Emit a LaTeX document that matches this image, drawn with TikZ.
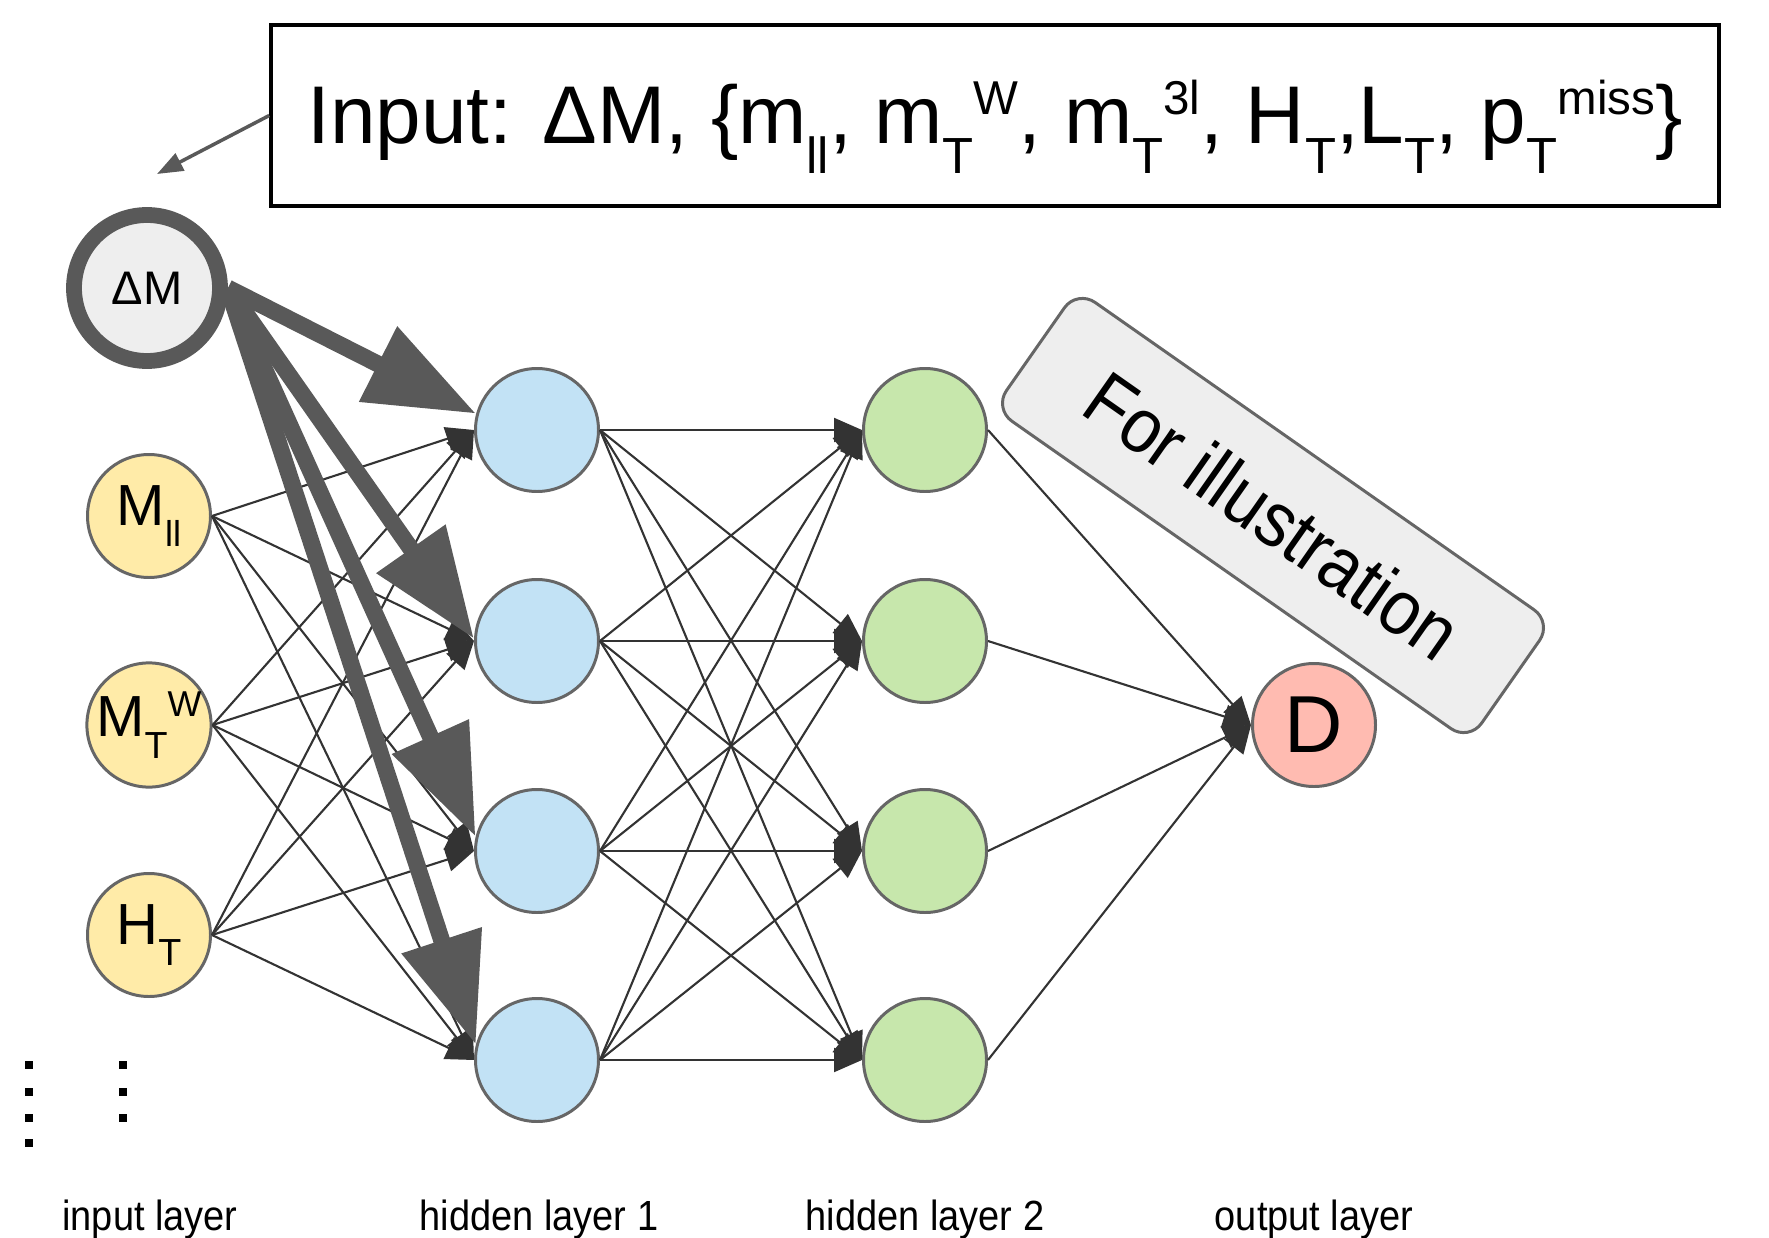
\documentclass[tikz,border=0pt]{standalone}
\usepackage{fontspec}
\setsansfont{Liberation Sans}
\newfontfamily\narrowsf[FakeStretch=0.9]{Liberation Sans}
\usepackage{graphicx}
\usetikzlibrary{arrows.meta}

\definecolor{nodeline}{HTML}{666666}
\definecolor{heavycol}{HTML}{595959}
\definecolor{wirecol}{HTML}{333333}
\definecolor{boxgray}{HTML}{EEEEEE}
\definecolor{inyellow}{HTML}{FFEBA8}
\definecolor{hidblue}{HTML}{C2E2F5}
\definecolor{hidgreen}{HTML}{C7E7AC}
\definecolor{outpink}{HTML}{FFBBB1}

% sub- and superscript as plain text
\newcommand{\lowtxt}[2][0.65]{\raisebox{-0.37em}{\scalebox{#1}{#2}}}
\newcommand{\hightxt}[2][0.62]{\raisebox{0.35em}{\scalebox{#1}{#2}}}

\begin{document}
\begin{tikzpicture}[font=\sffamily,
  unit/.style={circle, draw=nodeline, line width=0.85pt, minimum size=1.23cm, inner sep=0pt},
  inunit/.style={unit, fill=inyellow, font=\sffamily\fontsize{16.5}{18}\selectfont},
  hidone/.style={unit, fill=hidblue},
  hidtwo/.style={unit, fill=hidgreen},
  outunit/.style={unit, fill=outpink, font=\sffamily\fontsize{23}{26}\selectfont},
  wire/.style={draw=wirecol, line width=0.6pt, -{Triangle[length=0.28cm,width=0.24cm]}},
  heavy/.style={draw=heavycol, line width=4.8pt, -{Triangle[length=1.1cm,width=0.8cm]}},
  pointer/.style={draw=heavycol, line width=1pt, -{Triangle[length=0.26cm,width=0.19cm]}},
  layername/.style={anchor=base, font=\narrowsf\fontsize{12}{14}\selectfont}]
  \useasboundingbox (0,0) rectangle (17.69,12.37);
  % input layer
  \node[circle, draw=heavycol, line width=4.5pt, fill=boxgray, minimum size=1.46cm,
        inner sep=0pt, font=\sffamily\fontsize{13.4}{15}\selectfont] (dm) at (1.47,9.49) {ΔM};
  \node[inunit] (mll) at (1.49,7.21) {M\lowtxt[0.62]{ll}};
  \node[inunit] (mtw) at (1.49,5.12) {M\lowtxt{T}\hightxt{W}};
  \node[inunit] (ht) at (1.49,3.02) {H\lowtxt{T}};
  \foreach \y in {1.72,1.45,1.19,0.94}
    \fill[black] (0.29,\y) +(-0.04,-0.04) rectangle +(0.04,0.04);
  \foreach \y in {1.72,1.45,1.19}
    \fill[black] (1.23,\y) +(-0.04,-0.04) rectangle +(0.04,0.04);
  % hidden layers
  \foreach \i/\y in {1/8.07, 2/5.96, 3/3.86, 4/1.77}
    {\node[hidone] (ha\i) at (5.37,\y) {};
     \node[hidtwo] (hb\i) at (9.25,\y) {};}
  % output layer
  \node[outunit] (out) at (13.14,5.12) {D};
  % connections
  \foreach \s in {mll,mtw,ht}
    \foreach \i in {1,...,4}
      \draw[wire] (\s.east) -- (ha\i.west);
  \foreach \i in {1,...,4}
    \foreach \j in {1,...,4}
      \draw[wire] (ha\i.east) -- (hb\j.west);
  \foreach \j in {1,...,4}
    \draw[wire] (hb\j.east) -- (out.west);
  \foreach \i/\a in {1/165, 2/178, 3/167, 4/166}
    \draw[heavy] (dm.east) -- (ha\i.\a);
  % input box and note
  \node[draw=black, line width=1pt, minimum width=14.48cm, minimum height=1.81cm,
        text height=0.8cm, text depth=0.25cm,
        font=\sffamily\fontsize{23.3}{28}\selectfont] (inbox) at (9.95,11.215)
    {Input: ΔM, \{m\lowtxt[0.62]{ll}, m\lowtxt[0.62]{T}\hightxt[0.58]{W}, m\lowtxt[0.62]{T}\hightxt[0.58]{3l}, H\lowtxt[0.62]{T},L\lowtxt[0.62]{T}, p\lowtxt[0.62]{T}\hightxt[0.58]{miss}\}};
  \coordinate (pin) at (1.57,10.63);
  \draw[pointer] (inbox.west) -- (pin);
  \node[draw=nodeline, line width=0.85pt, fill=boxgray, rounded corners=0.22cm, rotate=-35,
        minimum width=5.8cm, minimum height=1.45cm,
        font=\narrowsf\fontsize{22}{26}\selectfont] (note) at (12.73,7.215) {For illustration};
  % layer names
  \foreach \n/\x/\t in {la/1.50/input layer, lb/5.39/hidden layer 1,
                        lc/9.25/hidden layer 2, ld/13.14/output layer}
    \node[layername] (\n) at (\x,0.07) {\t};
\end{tikzpicture}
\end{document}
